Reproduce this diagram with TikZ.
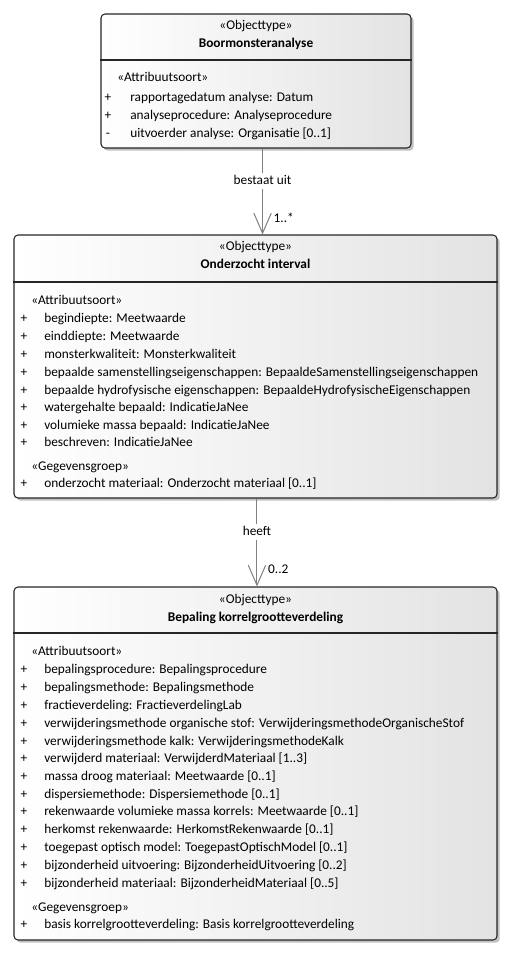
\documentclass[tikz,border=0pt]{standalone}
\usepackage{fontspec}
\setmainfont{Carlito}
\usetikzlibrary{arrows.meta,fit,shadows,positioning}
\tikzset{
  umlbox/.style={ draw=black!85, line width=0.8pt, rounded corners=3pt, inner sep=0pt,
    left color=white, right color=black!11,
    drop shadow={shadow xshift=2pt, shadow yshift=-2pt, fill=black!35, opacity=0.7} }
}
\tikzset{
  txt/.style={ font=\fontsize{10}{12}\selectfont, inner sep=0pt, text height=7pt, text depth=2pt }
}
\tikzset{
  attr/.style={ txt, anchor=west }
}
\tikzset{
  classname/.style={ txt, font=\fontsize{10}{12}\selectfont\bfseries }
}
\tikzset{
  assoc/.style={ draw=black!50, line width=0.75pt, -{Straight Barb[length=15pt,width=13pt]} }
}
\tikzset{
  lbl/.style={ txt, fill=white, inner sep=1.5pt }
}
\begin{document}
\begin{tikzpicture}[x=0.75pt, y={(0,-0.75pt)}]
      \useasboundingbox (0,0) rectangle (512,956);

      % Boormonsteranalyse
      \node[umlbox, fit={(101,14) (411,148)}] (bma) {};
      \draw[black!85, line width=0.8pt] (bma.west |- 0,60) -- (bma.east |- 0,60);
      \node[txt] (bma-st) at (bma.center |- 0,26) {«Objecttype»};
      \node[classname] (bma-nm) at (bma.center |- 0,44) {Boormonsteranalyse};
      \node[attr] (bma-as) at (117,78) {«Attribuutsoort»};
      \node[txt] (bma-v1) at (108,98) {+};
      \node[attr] (bma-a1) at (130,98) {rapportagedatum analyse: Datum};
      \node[txt] (bma-v2) at (108,116) {+};
      \node[attr] (bma-a2) at (130,116) {analyseprocedure: Analyseprocedure};
      \node[txt] (bma-v3) at (108,134) {-};
      \node[attr] (bma-a3) at (130,134) {uitvoerder analyse: Organisatie [0..1]};

      % Onderzocht interval
      \node[umlbox, fit={(14,235) (497,498)}] (oi) {};
      \draw[black!85, line width=0.8pt] (oi.west |- 0,282) -- (oi.east |- 0,282);
      \node[txt] (oi-st) at (oi.center |- 0,247) {«Objecttype»};
      \node[classname] (oi-nm) at (oi.center |- 0,265) {Onderzocht interval};
      \node[attr] (oi-as) at (31,301) {«Attribuutsoort»};
      \node[txt] (oi-v1) at (24,319) {+};
      \node[attr] (oi-a1) at (44,319) {begindiepte: Meetwaarde};
      \node[txt] (oi-v2) at (24,337) {+};
      \node[attr] (oi-a2) at (44,337) {einddiepte: Meetwaarde};
      \node[txt] (oi-v3) at (24,355) {+};
      \node[attr] (oi-a3) at (44,355) {monsterkwaliteit: Monsterkwaliteit};
      \node[txt] (oi-v4) at (24,373) {+};
      \node[attr] (oi-a4) at (44,373) {bepaalde samenstellingseigenschappen: BepaaldeSamenstellingseigenschappen};
      \node[txt] (oi-v5) at (24,391) {+};
      \node[attr] (oi-a5) at (44,391) {bepaalde hydrofysische eigenschappen: BepaaldeHydrofysischeEigenschappen};
      \node[txt] (oi-v6) at (24,408) {+};
      \node[attr] (oi-a6) at (44,408) {watergehalte bepaald: IndicatieJaNee};
      \node[txt] (oi-v7) at (24,426) {+};
      \node[attr] (oi-a7) at (44,426) {volumieke massa bepaald: IndicatieJaNee};
      \node[txt] (oi-v8) at (24,443) {+};
      \node[attr] (oi-a8) at (44,443) {beschreven: IndicatieJaNee};
      \node[attr] (oi-gg) at (31,467) {«Gegevensgroep»};
      \node[txt] (oi-v9) at (24,484) {+};
      \node[attr] (oi-a9) at (44,484) {onderzocht materiaal: Onderzocht materiaal [0..1]};

      % Bepaling korrelgrootteverdeling
      \node[umlbox, fit={(14,587) (497,940)}] (bk) {};
      \draw[black!85, line width=0.8pt] (bk.west |- 0,633) -- (bk.east |- 0,633);
      \node[txt] (bk-st) at (bk.center |- 0,600) {«Objecttype»};
      \node[classname] (bk-nm) at (bk.center |- 0,618) {Bepaling korrelgrootteverdeling};
      \node[attr] (bk-as) at (31,652) {«Attribuutsoort»};
      \node[txt] (bk-v1) at (24,670) {+};
      \node[attr] (bk-a1) at (44,670) {bepalingsprocedure: Bepalingsprocedure};
      \node[txt] (bk-v2) at (24,688) {+};
      \node[attr] (bk-a2) at (44,688) {bepalingsmethode: Bepalingsmethode};
      \node[txt] (bk-v3) at (24,706) {+};
      \node[attr] (bk-a3) at (44,706) {fractieverdeling: FractieverdelingLab};
      \node[txt] (bk-v4) at (24,724) {+};
      \node[attr] (bk-a4) at (44,724) {verwijderingsmethode organische stof: VerwijderingsmethodeOrganischeStof};
      \node[txt] (bk-v5) at (24,742) {+};
      \node[attr] (bk-a5) at (44,742) {verwijderingsmethode kalk: VerwijderingsmethodeKalk};
      \node[txt] (bk-v6) at (24,759) {+};
      \node[attr] (bk-a6) at (44,759) {verwijderd materiaal: VerwijderdMateriaal [1..3]};
      \node[txt] (bk-v7) at (24,777) {+};
      \node[attr] (bk-a7) at (44,777) {massa droog materiaal: Meetwaarde [0..1]};
      \node[txt] (bk-v8) at (24,795) {+};
      \node[attr] (bk-a8) at (44,795) {dispersiemethode: Dispersiemethode [0..1]};
      \node[txt] (bk-v9) at (24,812) {+};
      \node[attr] (bk-a9) at (44,812) {rekenwaarde volumieke massa korrels: Meetwaarde [0..1]};
      \node[txt] (bk-v10) at (24,830) {+};
      \node[attr] (bk-a10) at (44,830) {herkomst rekenwaarde: HerkomstRekenwaarde [0..1]};
      \node[txt] (bk-v11) at (24,848) {+};
      \node[attr] (bk-a11) at (44,848) {toegepast optisch model: ToegepastOptischModel [0..1]};
      \node[txt] (bk-v12) at (24,866) {+};
      \node[attr] (bk-a12) at (44,866) {bijzonderheid uitvoering: BijzonderheidUitvoering [0..2]};
      \node[txt] (bk-v13) at (24,884) {+};
      \node[attr] (bk-a13) at (44,884) {bijzonderheid materiaal: BijzonderheidMateriaal [0..5]};
      \node[attr] (bk-gg) at (31,908) {«Gegevensgroep»};
      \node[txt] (bk-v14) at (24,925) {+};
      \node[attr] (bk-a14) at (44,925) {basis korrelgrootteverdeling: Basis korrelgrootteverdeling};

      % associaties
      \draw[assoc] ([xshift=4.9pt]bma.south) -- ([xshift=4.9pt]bma.south |- oi.north)
        node[lbl, pos=0.38] {bestaat uit}
        node[txt, pos=0.82, anchor=west, xshift=8pt] {1..*};
      \draw[assoc] ([xshift=1.1pt]oi.south) -- ([xshift=1.1pt]oi.south |- bk.north)
        node[lbl, pos=0.38] {heeft}
        node[txt, pos=0.82, anchor=west, xshift=8pt] {0..2};
    \end{tikzpicture}
\end{document}
